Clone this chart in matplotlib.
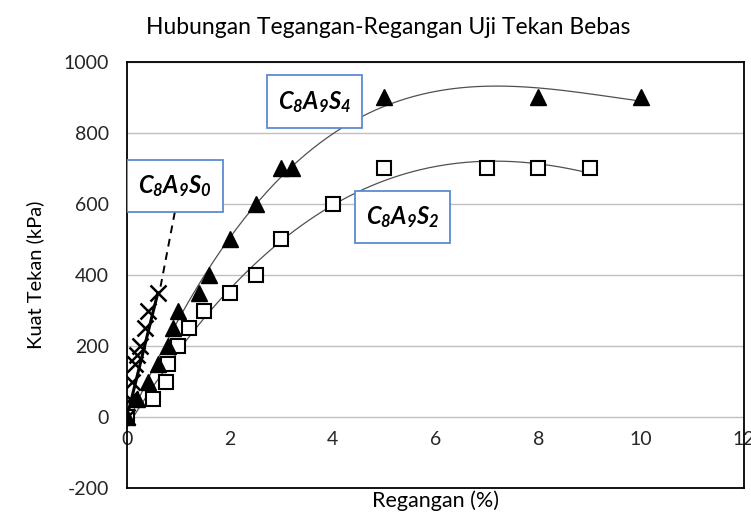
import matplotlib.pyplot as plt
import numpy as np
from matplotlib.patches import Rectangle

plt.rcParams['font.family'] = ['Lato', 'DejaVu Sans']
plt.rcParams['mathtext.fontset'] = 'custom'
plt.rcParams['mathtext.it'] = 'Lato:bold:italic'
plt.rcParams['mathtext.rm'] = 'Lato:bold:italic'
plt.rcParams['mathtext.bf'] = 'Lato:bold:italic'
plt.rcParams['axes.unicode_minus'] = False

# C8A9S0 (silang)
s0_x = [0, 0.05, 0.1, 0.15, 0.2, 0.25, 0.35, 0.4, 0.6]
s0_y = [0, 50, 100, 150, 175, 200, 250, 300, 350]

# C8A9S4 (segitiga)
s4_x = [0, 0.2, 0.4, 0.6, 0.8, 0.9, 1.0, 1.4, 1.6, 2.0, 2.5, 3.0, 3.2, 5, 8, 10]
s4_y = [0, 50, 100, 150, 200, 250, 300, 350, 400, 500, 600, 700, 700, 900, 900, 900]

# C8A9S2 (kotak)
s2_x = [0, 0.5, 0.75, 0.8, 1.0, 1.2, 1.5, 2.0, 2.5, 3.0, 4.0, 5.0, 7.0, 8.0, 9.0]
s2_y = [0, 50, 100, 150, 200, 250, 300, 350, 400, 500, 600, 700, 700, 700, 700]

xticks = [0, 2, 4, 6, 8, 10, 12]
yticks = [-200, 0, 200, 400, 600, 800, 1000]

fig = plt.figure(figsize=(7.51, 5.18), dpi=100)
ax = fig.add_axes([127/751, 1-488/518, (744-127)/751, (488-62)/518])
ax.set_xlim(0, 12)
ax.set_ylim(-200, 1000)

for yy in yticks[1:]:
    ax.axhline(yy, color='#bfbfbf', lw=1.0, zorder=0)

# trendline polinomial orde 3
for xs, ys in [(s4_x, s4_y), (s2_x, s2_y)]:
    c = np.polyfit(xs, ys, 3)
    xx = np.linspace(0, max(xs), 200)
    ax.plot(xx, np.polyval(c, xx), color='#505050', lw=0.9, zorder=2)

# garis lurus dari titik awal ke titik akhir
ax.plot([s0_x[0], s0_x[-1]], [s0_y[0], s0_y[-1]], color='black', lw=2.2, zorder=3)

ax.plot(s2_x, s2_y, 's', ms=10, mfc='white', mec='black', mew=1.5, zorder=4)
ax.plot(s4_x, s4_y, '^', ms=12, color='black', zorder=5)
ax.plot(s0_x, s0_y, 'x', ms=11.5, color='black', mew=1.8, zorder=6)

# kotak label
boxes = [((0.0, 577), r'$C_8A_9S_0$'), ((2.72, 814), r'$C_8A_9S_4$'), ((4.43, 490), r'$C_8A_9S_2$')]
for (bx, by), lab in boxes:
    ax.add_patch(Rectangle((bx, by), 1.86, 148, facecolor='white', edgecolor='#5b8bd0', lw=1.3, zorder=7))
    ax.text(bx + 0.93, by + 74, lab, ha='center', va='center', fontsize=17, zorder=8)
ax.plot([0.93, 0.64], [577, 358], ls=(0, (4, 3)), color='black', lw=1.4, zorder=6)

for s in ax.spines.values():
    s.set_color('black')
    s.set_linewidth(1.3)

ax.set_xticks(xticks)
ax.set_xticklabels([str(v) for v in xticks])
ax.set_yticks(yticks)
ax.tick_params(axis='both', length=0, labelsize=14, colors='#262626')
ax.tick_params(axis='x', pad=-41)
ax.tick_params(axis='y', pad=13)

ax.set_xlabel('Regangan (%)', fontsize=15.5, labelpad=2)
ax.set_ylabel('Kuat Tekan (kPa)', fontsize=14.5)
ax.yaxis.set_label_coords((44 - 127) / (744 - 127), 0.5)
fig.text(388/751, 1-28/518, 'Hubungan Tegangan-Regangan Uji Tekan Bebas', ha='center', va='center', fontsize=16.5)

fig.savefig('out.png', dpi=100)
